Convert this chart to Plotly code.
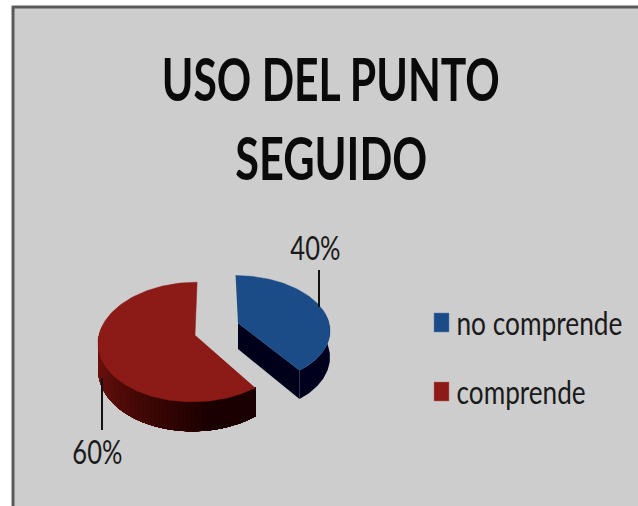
import json
import numpy as np
import plotly.graph_objects as go

categories = ["no comprende", "comprende"]
values = [40, 60]
percent_labels = ["40%", "60%"]
title_lines = ["USO DEL PUNTO", "SEGUIDO"]

BG = "#CDCDCD"
BORDER = "#5A5A5A"
TOP_COLORS = ["#1B4C87", "#8C1A16"]
FONT = "Lato"

# one exploded slice each: centre and radii in picture pixels
centers = [(238, 323), (195, 335)]
radii = [(91, 53), (96, 59)]
DEPTH = 26
PERSP = 0.117
VANISH_X = 215


def project(cx, cy, a, b, theta, drop=0):
    # theta runs clockwise from 12 o'clock, v is towards the viewer
    u, v = np.sin(theta), -np.cos(theta)
    s = 1 - PERSP * v
    return VANISH_X + (cx - VANISH_X + a * u) / s, cy + (b * v + drop) / s


def mix(c1, c2, t):
    return "rgb(%d,%d,%d)" % tuple(c1[i] + (c2[i] - c1[i]) * t for i in range(3))


fig = go.Figure()


def add_poly(xs, ys, color, width=0):
    fig.add_trace(go.Scatter(x=xs, y=ys, mode="lines", fill="toself", fillcolor=color,
                             line=dict(color=color, width=width), hoverinfo="skip", showlegend=False))


fractions = np.cumsum([0] + values) / sum(values)
tops = []
for i, cat in enumerate(categories):
    cx, cy = centers[i]
    a, b = radii[i]
    t0, t1 = 2 * np.pi * fractions[i], 2 * np.pi * fractions[i + 1]
    arc = np.linspace(t0, t1, 121)

    # outer wall, only the part that faces the viewer
    front = arc[(np.cos(arc) < 0.1) | (np.abs(np.sin(arc)) > 0.98)]
    if i == 0:
        x1, y1 = project(cx, cy, a, b, front)
        x2, y2 = project(cx, cy, a, b, front[::-1], DEPTH)
        add_poly(list(x1) + list(x2), list(y1) + list(y2), "#00001E")
    else:
        # strips painted left to right, each one running under the next
        n = 60
        edges = np.linspace(front[-1], front[0], n + 1)
        for k in range(n):
            th = np.linspace(edges[k], front[0], 30)
            x1, y1 = project(cx, cy, a, b, th)
            x2, y2 = project(cx, cy, a, b, th[::-1], DEPTH)
            color = mix((125, 22, 16), (26, 0, 0), min(1, k / (n * 0.8)) ** 1.2)
            add_poly(list(x1) + list(x2), list(y1) + list(y2), color)

    # cut face of the blue slice, the red one faces away
    if i == 0:
        ex, ey = project(cx, cy, a, b, t1)
        ex2, ey2 = project(cx, cy, a, b, t1, DEPTH)
        add_poly([cx, ex, ex2, cx], [cy, ey, ey2, cy + DEPTH], "#00001A")

    x, y = project(cx, cy, a, b, arc)
    tops.append((list(x) + [cx], list(y) + [cy]))

for i, (xs, ys) in enumerate(tops):
    add_poly(xs, ys, TOP_COLORS[i], 0.5)

shapes = [
    dict(type="rect", x0=13, x1=640, y0=8, y1=510, fillcolor=BG, line_width=0, layer="below"),
    dict(type="line", x0=13, x1=13, y0=6, y1=510, line=dict(color=BORDER, width=3), layer="below"),
    dict(type="line", x0=12, x1=640, y0=7, y1=7, line=dict(color=BORDER, width=3), layer="below"),
    # leader lines
    dict(type="line", x0=319, x1=319, y0=270, y1=307, line=dict(color="#111111", width=2)),
    dict(type="line", x0=102, x1=102, y0=378, y1=430, line=dict(color="#111111", width=2)),
    # legend keys
    dict(type="rect", x0=434, x1=449, y0=313, y1=332, fillcolor=TOP_COLORS[0], line=dict(color="#5F86B5", width=0.5)),
    dict(type="rect", x0=434, x1=449, y0=382, y1=401, fillcolor=TOP_COLORS[1], line=dict(color="#B56A66", width=0.5)),
]

annotations = [
    dict(x=331, y=78, text=title_lines[0], font=dict(size=60, color="#0A0A0A", weight=700)),
    dict(x=331, y=157, text=title_lines[1], font=dict(size=60, color="#0A0A0A", weight=700)),
    dict(x=315, y=247, text=percent_labels[0], font=dict(size=33, color="#1A1A1A")),
    dict(x=97, y=451, text=percent_labels[1], font=dict(size=33, color="#1A1A1A")),
    dict(x=539, y=322, text=categories[0], font=dict(size=28, color="#1A1A1A")),
    dict(x=520.5, y=391, text=categories[1], font=dict(size=28, color="#1A1A1A")),
]
for an in annotations:
    an.update(xref="x", yref="y", showarrow=False, xanchor="center", yanchor="middle")

# the original text is a squeezed narrow face, no such font here
text_widths = [338, 192, 50, 50, 166, 129]
text_stretch = [1, 1, 1, 1, 1.18, 1.18]

fig.update_layout(
    width=638,
    height=506,
    margin=dict(l=0, r=0, t=0, b=0),
    paper_bgcolor="white",
    plot_bgcolor="white",
    font=dict(family=FONT),
    showlegend=False,
    shapes=shapes,
    annotations=annotations,
    xaxis=dict(range=[0, 638], visible=False, fixedrange=True),
    yaxis=dict(range=[506, 0], visible=False, fixedrange=True),
)

squeeze = """
document.body.style.margin = '0';
var widths = %s, stretch = %s;
function squeeze() {
    document.querySelectorAll('.annotation-text').forEach(function (t, i) {
        t.setAttribute('textLength', widths[i]);
        t.setAttribute('lengthAdjust', 'spacingAndGlyphs');
        t.style.transformBox = 'fill-box';
        t.style.transformOrigin = 'center';
        t.style.transform = 'scaleY(' + stretch[i] + ')';
    });
}
squeeze();
setTimeout(squeeze, 50);
""" % (json.dumps(text_widths), json.dumps(text_stretch))

fig.write_html("out.html", config={"displayModeBar": False}, post_script=squeeze)
